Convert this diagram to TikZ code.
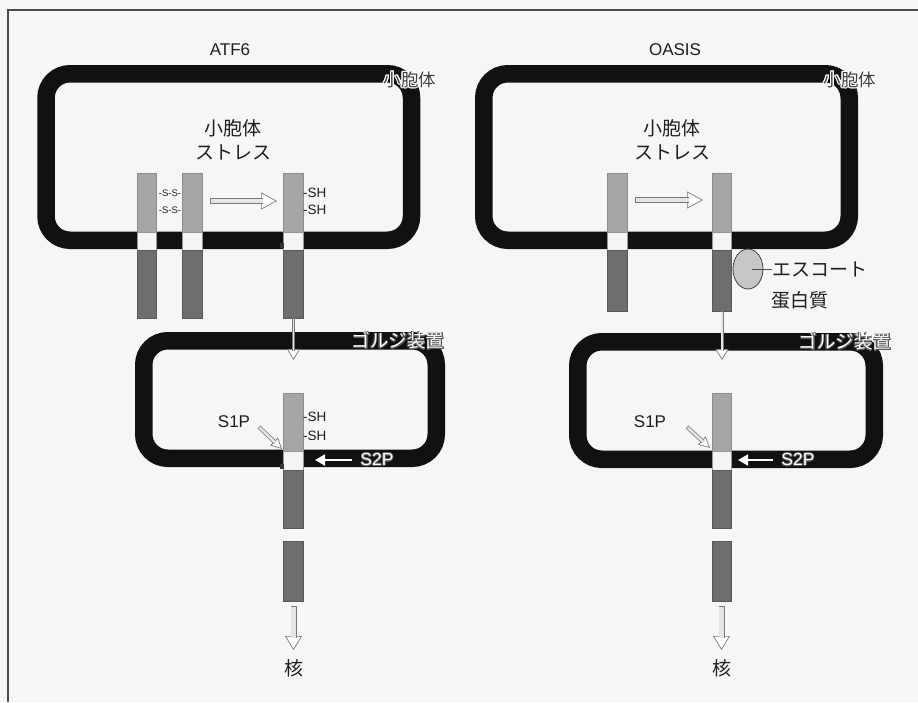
\documentclass[tikz,border=0pt]{standalone}
\usepackage{fontspec}
\setmainfont{Liberation Sans}
\newfontfamily\jp{Noto Sans CJK JP}
\usepackage{contour}
\contourlength{1pt}
\usetikzlibrary{arrows.meta,shapes.geometric}
\definecolor{bgc}{RGB}{246,246,245}
\definecolor{memc}{RGB}{17,17,17}
\definecolor{lightc}{RGB}{166,166,166}
\definecolor{lightedge}{RGB}{140,140,140}
\definecolor{darkc}{RGB}{110,110,110}
\definecolor{darkedge}{RGB}{88,88,88}
\definecolor{whitec}{RGB}{244,244,244}
\definecolor{whiteedge}{RGB}{150,150,150}
\definecolor{harrowedge}{RGB}{120,120,120}
\definecolor{harrowfill}{RGB}{228,228,228}
\definecolor{txt}{RGB}{30,30,30}
\newcommand\hollowarrow[5]{%
  \draw[line width=0.7pt, draw=harrowedge, -{Triangle[open, fill=white, length=#4pt, width=#5pt]}] #1 -- #2;
  \draw[line width=#3pt, draw=harrowedge, shorten >=#4pt-1.5pt] #1 -- #2;
  \draw[line width=#3pt-1.4pt, draw=harrowfill, shorten >=#4pt-1.5pt, shorten <=0.7pt] #1 -- #2;
}
\begin{document}
\begin{tikzpicture}[x=1pt,y=-1pt,
  membrane/.style={draw=memc, line width=17.5pt, rounded corners=24pt, rectangle, inner sep=0pt},
  barbase/.style={rectangle, inner sep=0pt, minimum width=19.5pt, line width=0.6pt},
  lightbar/.style={barbase, fill=lightc, draw=lightedge},
  darkbar/.style={barbase, fill=darkc, draw=darkedge},
  whitebar/.style={barbase, fill=whitec, draw=whiteedge},
  head/.style={font=\fontsize{17}{20}\selectfont, text=txt},
  jplabel/.style={font=\jp\fontsize{19}{24}\selectfont, text=txt, align=center},
  ssl/.style={font=\fontsize{9.5}{11}\selectfont, text=txt, inner sep=0pt},
  shl/.style={font=\fontsize{13.5}{15}\selectfont, text=txt, inner sep=0pt, anchor=west},
  protl/.style={font=\fontsize{17}{20}\selectfont, text=txt},
  hollowtxt/.style={text=white, inner sep=0pt},
  halotxt/.style={text=black!75, inner sep=0pt},
  s2parrow/.style={draw=white, line width=2pt, -{Triangle[length=10pt, width=11pt, fill=white]}}
]
\useasboundingbox (0,0) rectangle (918,702);
\fill[bgc] (0,0) rectangle (918,702);
% frame
\coordinate (f1) at (8,702);
\coordinate (f2) at (8,10);
\coordinate (f3) at (918,10);
\draw[line width=1.4pt, draw=black!70] (f1) -- (f2) -- (f3);

% titles
\node[head] (tatf) at (230,50) {ATF6};
\node[head] (toasis) at (675,50) {OASIS};

% membranes
\node[membrane, minimum width=365.5pt, minimum height=166.5pt] (er1) at (228.75,157) {};
\node[membrane, minimum width=365.5pt, minimum height=166.5pt] (er2) at (666.5,157) {};
\node[membrane, minimum width=292.5pt, minimum height=117.5pt] (go1) at (290,399.5) {};
\node[membrane, minimum width=296.5pt, minimum height=117.5pt] (go2) at (726,400.5) {};

% membrane labels
\node[halotxt, font=\jp\fontsize{17.5}{19}\selectfont] (ler1) at (410,80) {\contour{white}{小胞体}};
\node[halotxt, font=\jp\fontsize{17.5}{19}\selectfont] (ler2) at (850,80) {\contour{white}{小胞体}};
\node[hollowtxt, font=\jp\fontsize{18.5}{20}\selectfont] (lgo1) at (398,341) {\contourlength{0.7pt}\contour{black!65}{ゴルジ装置}};
\node[hollowtxt, font=\jp\fontsize{18.5}{20}\selectfont] (lgo2) at (845,342) {\contourlength{0.7pt}\contour{black!65}{ゴルジ装置}};

% stress labels
\node[jplabel] (st1) at (233,140) {小胞体\\ストレス};
\node[jplabel] (st2) at (672,140) {小胞体\\ストレス};

% ===== ATF6 ER bars =====
\node[lightbar, minimum height=59pt] (a1l) at (147,202.5) {};
\node[whitebar, minimum height=18pt] (a1w) at (147,241) {};
\node[darkbar, minimum height=68pt] (a1d) at (147,284) {};
\node[lightbar, minimum height=59pt] (a2l) at (192.5,202.5) {};
\node[whitebar, minimum height=18pt] (a2w) at (192.5,241) {};
\node[darkbar, minimum height=68pt] (a2d) at (192.5,284) {};
\node[lightbar, minimum height=59pt] (a3l) at (293.5,202.5) {};
\node[whitebar, minimum height=18pt] (a3w) at (293.5,241) {};
\node[darkbar, minimum height=68pt] (a3d) at (293.5,284) {};
\node[rectangle, fill=black!80, inner sep=0pt, minimum width=4pt, minimum height=5pt] (a3m) at (282,245.5) {};

\node[ssl] (ss1) at (170,193) {-S-S-};
\node[ssl] (ss2) at (170,210) {-S-S-};
\node[shl] (sh1) at (303,193) {-SH};
\node[shl] (sh2) at (303,210) {-SH};

\coordinate (ha1s) at (210,201);
\coordinate (ha1e) at (277,201);
\hollowarrow{(ha1s)}{(ha1e)}{5.5}{16}{17}

% ===== OASIS ER bars =====
\node[lightbar, minimum height=59pt] (o1l) at (617.5,202.5) {};
\node[whitebar, minimum height=18pt] (o1w) at (617.5,241) {};
\node[darkbar, minimum height=61pt] (o1d) at (617.5,280.5) {};
\node[lightbar, minimum height=59pt] (o2l) at (722,202.5) {};
\node[whitebar, minimum height=18pt] (o2w) at (722,241) {};
\node[darkbar, minimum height=61pt] (o2d) at (722,280.5) {};

\coordinate (ha2s) at (635,200);
\coordinate (ha2e) at (703,200);
\hollowarrow{(ha2s)}{(ha2e)}{5.5}{16}{17}

% escort protein
\node[ellipse, draw=black!75, fill=black!22, line width=0.8pt, minimum width=30pt, minimum height=40pt, inner sep=0pt] (esc) at (748,269) {};
\coordinate (escl) at (752,269);
\node[jplabel, anchor=west, inner sep=0pt] (esct) at (772,269) {エスコート};
\draw[line width=0.8pt, draw=black!70] (escl) -- (esct.west);
\node[jplabel] (escp) at (800,300) {蛋白質};

% ER -> Golgi arrows
\coordinate (ag1) at (293.5,360);
\coordinate (ag2) at (722,360);
\hollowarrow{(a3d.south)}{(ag1)}{3}{11}{13}
\hollowarrow{(o2d.south)}{(ag2)}{3}{11}{13}

% ===== Golgi ATF6 =====
\node[lightbar, minimum height=58pt] (g1l) at (293.5,422) {};
\node[whitebar, minimum height=19pt] (g1w) at (293.5,460.5) {};
\node[darkbar, minimum height=58pt] (g1d) at (293.5,499) {};
\node[darkbar, minimum height=60pt] (g1p) at (293.5,571) {};
\node[rectangle, fill=black!80, inner sep=0pt, minimum width=4pt, minimum height=5pt] (g1m) at (282,466) {};
\node[shl] (gsh1) at (303,417) {-SH};
\node[shl] (gsh2) at (303,436) {-SH};
\node[protl] (s1p1) at (234,422) {S1P};
\coordinate (s1a1s) at (259,427);
\coordinate (s1a1e) at (282,449);
\hollowarrow{(s1a1s)}{(s1a1e)}{4}{11}{11}
\node[hollowtxt, font=\fontsize{17.5}{20}\selectfont] (s2p1) at (377,460) {\contourlength{0.7pt}\contour{black!65}{S2P}};
\coordinate (s2a1) at (315,460);
\draw[s2parrow] (s2p1.west) ++(-8,0) coordinate (s2b1) (s2b1) -- (s2a1);

% ===== Golgi OASIS =====
\node[lightbar, minimum height=58pt] (g2l) at (722,422) {};
\node[whitebar, minimum height=19pt] (g2w) at (722,460.5) {};
\node[darkbar, minimum height=58pt] (g2d) at (722,499) {};
\node[darkbar, minimum height=60pt] (g2p) at (722,571) {};
\node[protl] (s1p2) at (650,422) {S1P};
\coordinate (s1a2s) at (687,427);
\coordinate (s1a2e) at (710,448);
\hollowarrow{(s1a2s)}{(s1a2e)}{4}{11}{11}
\node[hollowtxt, font=\fontsize{17.5}{20}\selectfont] (s2p2) at (798,460) {\contourlength{0.7pt}\contour{black!65}{S2P}};
\coordinate (s2a2) at (738,460);
\draw[s2parrow] (s2p2.west) ++(-8,0) coordinate (s2b2) (s2b2) -- (s2a2);

% nucleus arrows
\coordinate (n1s) at (293.5,606);
\coordinate (n1e) at (293.5,650);
\coordinate (n2s) at (721.5,606);
\coordinate (n2e) at (721.5,650);
\hollowarrow{(n1s)}{(n1e)}{6}{14}{17}
\hollowarrow{(n2s)}{(n2e)}{6}{14}{17}
\node[jplabel] (nuc1) at (293.5,668) {核};
\node[jplabel] (nuc2) at (722,668) {核};
\end{tikzpicture}
\end{document}
